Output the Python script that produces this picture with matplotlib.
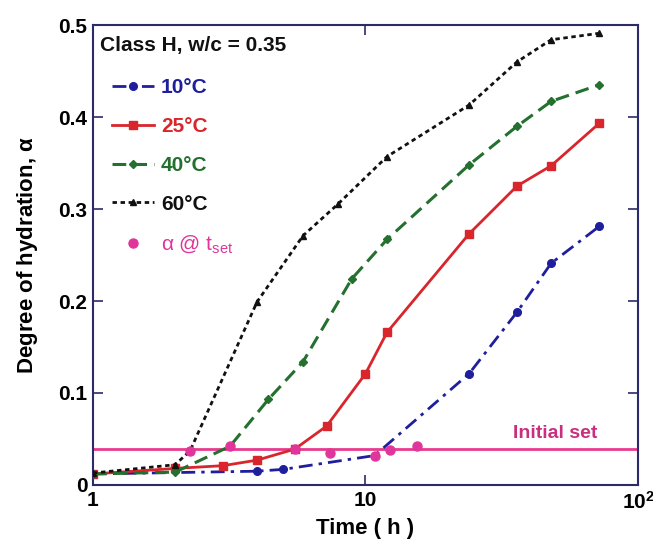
import numpy as np
import matplotlib
matplotlib.use("Agg")
import matplotlib.pyplot as plt
from matplotlib.ticker import FixedLocator, FixedFormatter, NullLocator

plt.rcParams['font.family'] = ['Liberation Sans', 'DejaVu Sans']
plt.rcParams['mathtext.fontset'] = 'custom'
plt.rcParams['mathtext.rm'] = 'Liberation Sans'
plt.rcParams['mathtext.it'] = 'Liberation Sans:italic'
plt.rcParams['mathtext.bf'] = 'Liberation Sans:bold'

# degree of hydration vs time, Class H cement, w/c = 0.35
t_10 = [1, 4, 5, 10.8, 24, 36, 48, 72]
a_10 = [0.012, 0.015, 0.017, 0.032, 0.121, 0.188, 0.241, 0.281]

t_25 = [1, 2, 3, 4, 5.5, 7.2, 10, 12, 24, 36, 48, 72]
a_25 = [0.012, 0.018, 0.021, 0.027, 0.039, 0.064, 0.121, 0.166, 0.273, 0.325, 0.347, 0.393]

t_40 = [1, 2, 3.18, 4.4, 5.9, 8.9, 12, 24, 36, 48, 72]
a_40 = [0.012, 0.014, 0.042, 0.093, 0.134, 0.224, 0.267, 0.348, 0.390, 0.417, 0.435]

t_60 = [1, 2, 2.27, 4, 5.9, 7.9, 12, 24, 36, 48, 72]
a_60 = [0.013, 0.022, 0.037, 0.199, 0.271, 0.305, 0.357, 0.413, 0.460, 0.484, 0.491]

# alpha at time of initial set
t_set = [2.27, 3.18, 5.5, 7.4, 10.8, 12.3, 15.4]
a_set = [0.037, 0.042, 0.039, 0.035, 0.032, 0.038, 0.042]

alpha_initial_set = 0.039

BLUE = '#1f1f9e'
RED = '#d8262c'
GREEN = '#23702f'
BLACK = '#111111'
MAGENTA = '#e0359a'
SPINE = '#2b2b6b'

fig = plt.figure(figsize=(6.53, 5.51), dpi=100)
ax = fig.add_axes([0.1424, 0.1198, 0.8346, 0.8348])

ax.axhline(alpha_initial_set, color='#e83a8e', lw=2.0, zorder=1)

ax.plot(t_10, a_10, color=BLUE, lw=2.0, marker='o', ms=5.5,
        dashes=(5, 2.2, 1.2, 2.2), label='10°C', zorder=3)
ax.plot(t_25, a_25, color=RED, lw=2.0, marker='s', ms=6,
        linestyle='-', label='25°C', zorder=3)
ax.plot(t_40, a_40, color=GREEN, lw=2.2, marker='D', ms=4,
        dashes=(4.5, 2.3), label='40°C', zorder=3)
ax.plot(t_60, a_60, color=BLACK, lw=2.0, marker='^', ms=5,
        dashes=(1.6, 1.3), label='60°C', zorder=3)
ax.plot(t_set, a_set, color=MAGENTA, lw=0, marker='o', ms=6.5,
        label='α @ t$_{\\mathrm{set}}$', zorder=4)

ax.text(0.77, alpha_initial_set + 0.008, 'Initial set', transform=ax.get_yaxis_transform(),
        ha='left', va='bottom', color='#c8307f', fontsize=14, fontweight='bold')

ax.set_xscale('log')
ax.set_xlim(1, 100)
ax.set_ylim(0, 0.5)

ax.xaxis.set_major_locator(FixedLocator([1, 10, 100]))
ax.xaxis.set_major_formatter(FixedFormatter(['1', '10', r'10$^{\mathbf{2}}$']))
ax.xaxis.set_minor_locator(NullLocator())
ax.set_yticks([0, 0.1, 0.2, 0.3, 0.4, 0.5])
ax.set_yticklabels(['0', '0.1', '0.2', '0.3', '0.4', '0.5'])

ax.tick_params(axis='both', which='major', direction='in', length=7, width=1.2,
               top=True, right=True, labelsize=15, color=SPINE, pad=4)
for lab in ax.get_xticklabels() + ax.get_yticklabels():
    lab.set_fontweight('bold')

for sp in ax.spines.values():
    sp.set_color(SPINE)
    sp.set_linewidth(1.5)

ax.set_xlabel('Time ( h )', fontsize=16, fontweight='bold', labelpad=4)
ax.set_ylabel(r'Degree of hydration, $\mathbf{\alpha}$', fontsize=16,
              fontweight='bold', labelpad=13)

# legend title sits a little left of the legend rows
ax.text(0.013, 0.955, 'Class H, w/c = 0.35', transform=ax.transAxes,
        ha='left', va='center', fontsize=15, fontweight='bold', color=BLACK)

leg = ax.legend(loc='upper left', bbox_to_anchor=(0.035, 0.884), frameon=False,
                prop={'size': 15, 'weight': 'bold'},
                handlelength=2.0, handletextpad=0.35, labelspacing=0.95,
                borderpad=0.0, borderaxespad=0.0)
leg_colors = [BLUE, RED, GREEN, BLACK, MAGENTA]
for txt, c in zip(leg.get_texts(), leg_colors):
    txt.set_color(c)
leg.get_texts()[-1].set_fontweight('normal')

fig.savefig('out.png', dpi=100)
